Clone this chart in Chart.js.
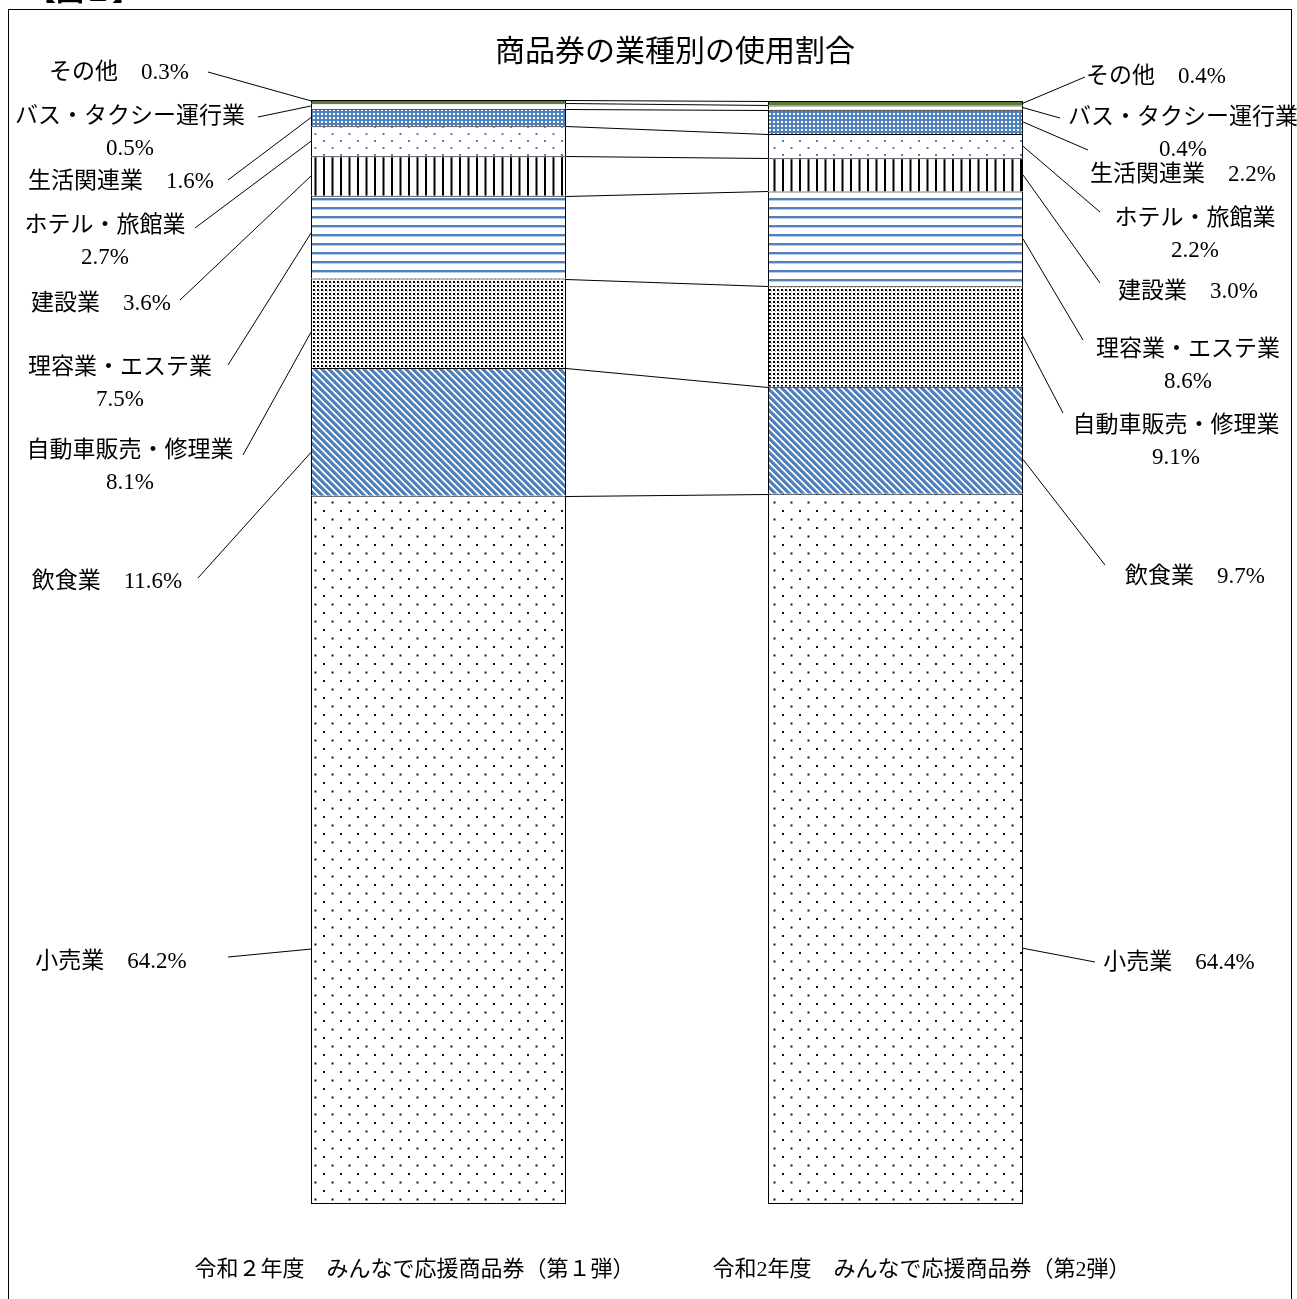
<!DOCTYPE html>
<html lang="ja">
<head>
<meta charset="utf-8">
<title>商品券の業種別の使用割合</title>
<script src="https://cdn.jsdelivr.net/npm/chart.js@4/dist/chart.umd.min.js"></script>
<style>
  html, body { margin: 0; padding: 0; background: #fff; overflow: hidden; }
  canvas { display: block; }
</style>
</head>
<body>
<canvas id="c" width="1297" height="1299"></canvas>
<script>
// ── data ────────────────────────────────────────────────────────────────────
var TITLE = "商品券の業種別の使用割合";
var categories = ["令和２年度　みんなで応援商品券（第１弾）", "令和2年度　みんなで応援商品券（第2弾）"];
var industries = ["小売業", "飲食業", "自動車販売・修理業", "理容業・エステ業", "建設業",
                  "ホテル・旅館業", "生活関連業", "バス・タクシー運行業", "その他"];
var round1 = [64.2, 11.6, 8.1, 7.5, 3.6, 2.7, 1.6, 0.5, 0.3];
var round2 = [64.4, 9.7, 9.1, 8.6, 3.0, 2.2, 2.2, 0.4, 0.4];
// which labels wrap the value onto a second line (same on both sides)
var wrapped = [false, false, true, true, false, true, false, true, false];

// ── layout (label text centre, leader end near text, anchor fraction down the segment) ──
var leftLabels = [
  { cx: 111, cy: 962, ex: 228, ey: 957, f: 0.64 },
  { cx: 107, cy: 582, ex: 198, ey: 578, f: 0.66 },
  { cx: 130, cy: 451, ex: 243, ey: 455, f: 0.6 },
  { cx: 120, cy: 368, ex: 228, ey: 365, f: 0.45 },
  { cx: 101, cy: 304, ex: 180, ey: 300, f: 0.5 },
  { cx: 105, cy: 226, ex: 195, ey: 228, f: 0.5 },
  { cx: 121, cy: 182, ex: 228, ey: 180, f: 0.5 },
  { cx: 130, cy: 117, ex: 258, ey: 117, f: 0.5 },
  { cx: 119, cy: 73,  ex: 208, ey: 72,  f: 0.3 }
];
var rightLabels = [
  { cx: 1179, cy: 963, ex: 1095, ey: 962, f: 0.64 },
  { cx: 1195, cy: 577, ex: 1105, ey: 565, f: 0.68 },
  { cx: 1176, cy: 426, ex: 1063, ey: 413, f: 0.5 },
  { cx: 1188, cy: 350, ex: 1083, ey: 340, f: 0.5 },
  { cx: 1188, cy: 292, ex: 1100, ey: 283, f: 0.5 },
  { cx: 1195, cy: 219, ex: 1100, ey: 212, f: 0.5 },
  { cx: 1183, cy: 175, ex: 1088, ey: 150, f: 0.5 },
  { cx: 1183, cy: 118, ex: 1060, ey: 118, f: 0.5 },
  { cx: 1156, cy: 77,  ex: 1085, ey: 77,  f: 0.5 }
];
var catOffset = [-24, 26];
var FONT = '"Liberation Serif", "Noto Sans CJK JP", serif';
var BLUE = "#4F81BD", BLUE_LT = "#B9CDE5";

// ── fill patterns ───────────────────────────────────────────────────────────
function pattern(w, h, draw) {
  var cv = document.createElement("canvas");
  cv.width = w; cv.height = h;
  var g = cv.getContext("2d");
  g.fillStyle = "#fff"; g.fillRect(0, 0, w, h);
  draw(g, w, h);
  return g.createPattern(cv, "repeat");
}
var ctx0 = document.getElementById("c").getContext("2d");

var fills = [
  // 小売業: sparse staggered black dots
  pattern(17, 17, function (g) { g.fillStyle = "#111"; g.fillRect(0, 0, 2, 2); g.fillRect(8.5, 8.5, 2, 2); }),
  // 飲食業: blue diagonal stripes
  pattern(7, 7, function (g) {
    for (var y = 0; y < 7; y++) for (var x = 0; x < 7; x++) {
      var k = ((x - y) % 7 + 7) % 7;
      if (k < 4) { g.fillStyle = BLUE; g.fillRect(x, y, 1, 1); }
      else if (k === 4) { g.fillStyle = "#A9C0E0"; g.fillRect(x, y, 1, 1); }
    }
  }),
  // 自動車販売・修理業: dense black dots
  pattern(4, 4, function (g) { g.fillStyle = "#000"; g.fillRect(1, 1, 2, 2); g.fillStyle = "#aaa"; g.fillRect(3, 3, 1, 1); }),
  // 理容業・エステ業: horizontal blue lines
  pattern(9, 9, function (g) { g.fillStyle = BLUE; g.fillRect(0, 0, 9, 2); g.fillStyle = BLUE_LT; g.fillRect(0, 2, 9, 1); }),
  // 建設業: vertical black lines
  pattern(17, 4, function (g) { g.fillStyle = "#000"; g.fillRect(0, 0, 2, 4); g.fillRect(8.5, 0, 2, 4); }),
  // ホテル・旅館業: sparse blue dots
  pattern(17, 14, function (g) { g.fillStyle = BLUE; g.fillRect(0, 0, 2, 2); g.fillRect(8.5, 7, 2, 2); }),
  // 生活関連業: blue with white small squares
  pattern(4, 4, function (g) { g.fillStyle = BLUE; g.fillRect(0, 0, 4, 4); g.fillStyle = "#fff"; g.fillRect(1, 1, 2, 2); }),
  // バス・タクシー運行業
  "#ffffff",
  // その他
  "#5F7A32"
];

// ── plugins ─────────────────────────────────────────────────────────────────
var decor = {
  id: "decor",
  beforeDraw: function (chart) {
    var c = chart.ctx;
    c.save();
    c.fillStyle = "#fff"; c.fillRect(0, 0, chart.width, chart.height);
    c.fillStyle = "#000";
    c.font = "bold 28px " + FONT;
    c.textBaseline = "alphabetic"; c.textAlign = "left";
    c.fillText("【図１】", 28, 1);
    c.strokeStyle = "#000"; c.lineWidth = 1;
    c.strokeRect(8.5, 9.5, 1283, 1400);
    c.font = "30px " + FONT; c.textAlign = "center"; c.textBaseline = "middle";
    c.fillText(TITLE, 675, 53);
    c.restore();
  },
  afterDatasetsDraw: function (chart) {
    var c = chart.ctx;
    var xs = chart.scales.x;
    c.save();
    c.strokeStyle = "#000"; c.lineWidth = 1;
    // series lines between the two bars
    chart.data.datasets.forEach(function (ds, i) {
      var m = chart.getDatasetMeta(i);
      var a = m.data[0], b = m.data[1];
      c.beginPath();
      c.moveTo(a.x + a.width / 2, Math.round(a.y) + 0.5);
      c.lineTo(b.x - b.width / 2, Math.round(b.y) + 0.5);
      c.stroke();
    });
    // data labels with leader lines
    c.fillStyle = "#000";
    c.font = "23px " + FONT; c.textAlign = "center"; c.textBaseline = "middle";
    [leftLabels, rightLabels].forEach(function (lay, side) {
      var vals = side === 0 ? round1 : round2;
      chart.data.datasets.forEach(function (ds, i) {
        var el = chart.getDatasetMeta(i).data[side];
        var L = lay[i];
        var bx = side === 0 ? el.x - el.width / 2 : el.x + el.width / 2;
        var by = el.y + (el.base - el.y) * L.f;
        c.beginPath(); c.moveTo(bx, by); c.lineTo(L.ex, L.ey); c.stroke();
        var v = vals[i].toFixed(1) + "%";
        if (wrapped[i]) {
          c.fillText(industries[i], L.cx, L.cy);
          c.fillText(v, L.cx, L.cy + 32);
        } else {
          c.fillText(industries[i] + "　" + v, L.cx, L.cy);
        }
      });
    });
    // category labels
    c.font = "22px " + FONT;
    categories.forEach(function (lab, i) {
      c.fillText(lab, xs.getPixelForValue(i) + catOffset[i], 1270);
    });
    c.restore();
  }
};

// ── chart ───────────────────────────────────────────────────────────────────
var datasets = industries.map(function (name, i) {
  return {
    label: name,
    data: [round1[i], round2[i]],
    backgroundColor: fills[i],
    borderColor: "#000",
    borderWidth: 1,
    borderSkipped: i === 0 ? false : "start",
    barPercentage: 0.558,
    categoryPercentage: 1,
    clip: false
  };
});

new Chart(ctx0, {
  type: "bar",
  data: { labels: categories, datasets: datasets },
  options: {
    responsive: false,
    animation: false,
    layout: { padding: { left: 210, right: 173, top: 101, bottom: 95 } },
    plugins: { legend: { display: false }, tooltip: { enabled: false }, title: { display: false } },
    scales: {
      x: { stacked: true, display: false },
      y: { stacked: true, display: false, min: 0, max: 100 }
    }
  },
  plugins: [decor]
});
</script>
</body>
</html>
